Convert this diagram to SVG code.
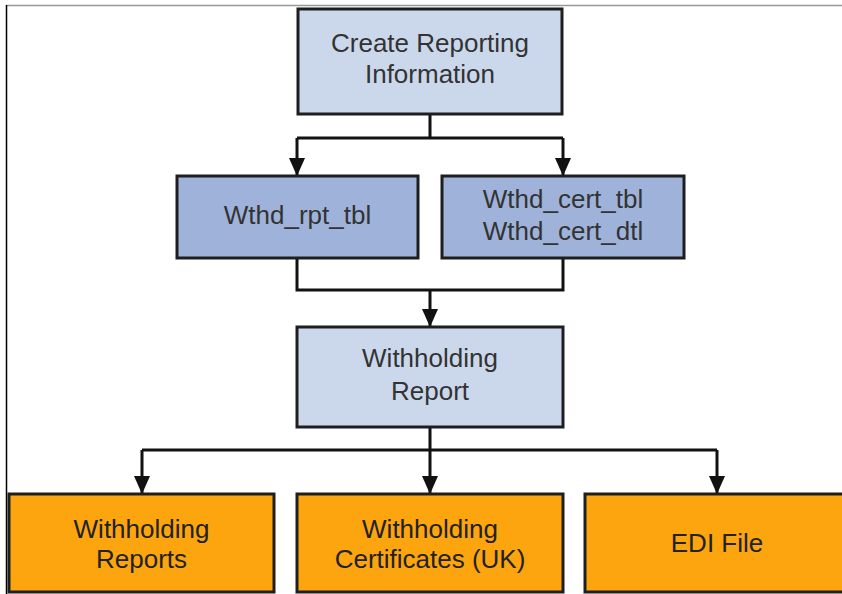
<svg xmlns="http://www.w3.org/2000/svg" width="842" height="594" viewBox="0 0 842 594">
<style>
  .box { stroke: #1e1e1e; stroke-width: 3; }
  .light { fill: #cbd8eb; }
  .mid { fill: #9fb3da; }
  .orange { fill: #fda50f; }
  text { font-family: "Liberation Sans", Arial, sans-serif; font-size: 26px; text-anchor: middle; fill: #333333; }
  .dark { fill: #222222; }
  .conn { fill: none; stroke: #111111; stroke-width: 3; }
</style>
<defs>
  <marker id="arrow" viewBox="0 0 18 16" refX="18" refY="8" markerWidth="18" markerHeight="16" markerUnits="userSpaceOnUse" orient="auto">
    <path d="M0,0 L18,8 L0,16 Z" fill="#111111"/>
  </marker>
</defs>
<rect x="0" y="0" width="842" height="594" fill="#ffffff"/>
<line x1="6" y1="5.5" x2="842" y2="5.5" stroke="#999999" stroke-width="1.5"/>
<line x1="6.5" y1="5" x2="6.5" y2="594" stroke="#000000" stroke-width="1.5"/>

<g id="connectors">
  <path class="conn" d="M430,114 V138"/>
  <path class="conn" d="M297,138 H563"/>
  <path class="conn" d="M297,138 V176" marker-end="url(#arrow)"/>
  <path class="conn" d="M563,138 V176" marker-end="url(#arrow)"/>
  <path class="conn" d="M297,258 V290 H563 V258"/>
  <path class="conn" d="M430,290 V327" marker-end="url(#arrow)"/>
  <path class="conn" d="M430,427 V450"/>
  <path class="conn" d="M142,450 H717"/>
  <path class="conn" d="M142,450 V494" marker-end="url(#arrow)"/>
  <path class="conn" d="M430,450 V494" marker-end="url(#arrow)"/>
  <path class="conn" d="M717,450 V494" marker-end="url(#arrow)"/>
</g>

<g id="create-reporting-information">
  <rect class="box light" x="298" y="9" width="264" height="105"/>
  <text x="430" y="52">Create Reporting</text>
  <text x="430" y="83">Information</text>
</g>

<g id="wthd-rpt-tbl">
  <rect class="box mid" x="177" y="176" width="241" height="82"/>
  <text x="297.5" y="224">Wthd_rpt_tbl</text>
</g>

<g id="wthd-cert">
  <rect class="box mid" x="442" y="176" width="242" height="82"/>
  <text x="563" y="208">Wthd_cert_tbl</text>
  <text x="563" y="240">Wthd_cert_dtl</text>
</g>

<g id="withholding-report">
  <rect class="box light" x="297" y="327" width="266" height="100"/>
  <text x="430" y="367">Withholding</text>
  <text x="430" y="400">Report</text>
</g>

<g id="withholding-reports">
  <rect class="box orange" x="9" y="494" width="265" height="98"/>
  <text class="dark" x="141.5" y="538">Withholding</text>
  <text class="dark" x="141.5" y="568">Reports</text>
</g>

<g id="withholding-certificates">
  <rect class="box orange" x="297" y="494" width="266" height="98"/>
  <text class="dark" x="430" y="538">Withholding</text>
  <text class="dark" x="430" y="568">Certificates (UK)</text>
</g>

<g id="edi-file">
  <rect class="box orange" x="585" y="494" width="270" height="98"/>
  <text class="dark" x="717" y="552">EDI File</text>
</g>
</svg>
